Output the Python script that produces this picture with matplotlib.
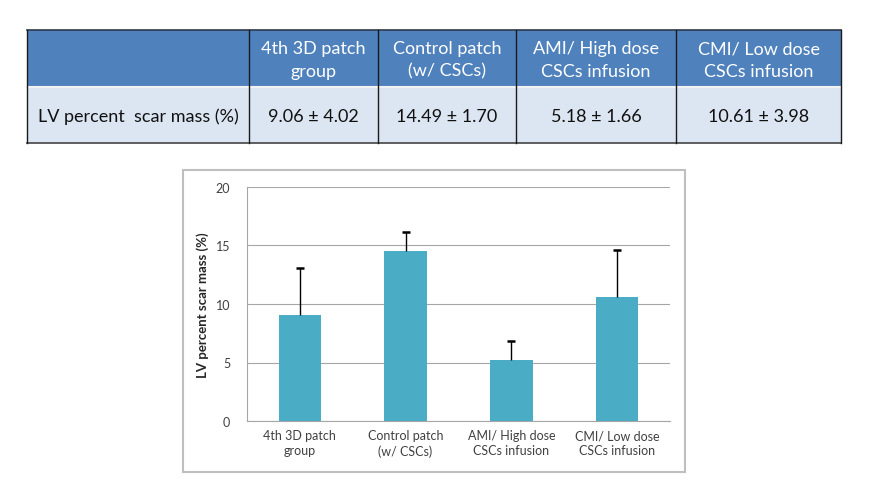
import matplotlib
matplotlib.use("Agg")
import matplotlib.pyplot as plt
from matplotlib.patches import Rectangle

# data
groups = ["4th 3D patch\ngroup", "Control patch\n(w/ CSCs)", "AMI/ High dose\nCSCs infusion", "CMI/ Low dose\nCSCs infusion"]
means = [9.06, 14.49, 5.18, 10.61]
sds = [4.02, 1.70, 1.66, 3.98]
row_label = "LV percent  scar mass (%)"
y_label = "LV percent scar mass (%)"
y_ticks = [0, 5, 10, 15, 20]

plt.rcParams['font.family'] = ['Lato', 'DejaVu Sans']

W, H = 884, 485
fig = plt.figure(figsize=(W / 100, H / 100), dpi=100)

# background layer in pixel coordinates (table + chart frame)
bg = fig.add_axes([0, 0, 1, 1])
bg.set_xlim(0, W)
bg.set_ylim(H, 0)
bg.axis("off")

col_edges = [27, 249, 378, 516, 676, 841]
row_edges = [31, 88, 144]
header_col = "#4F81BD"
body_col = "#DCE6F2"

# header row
bg.add_patch(Rectangle((col_edges[0], row_edges[0]), col_edges[-1] - col_edges[0],
                       row_edges[1] - row_edges[0], facecolor=header_col, edgecolor="none"))
# data row
bg.add_patch(Rectangle((col_edges[0], row_edges[1]), col_edges[-1] - col_edges[0],
                       row_edges[2] - row_edges[1], facecolor=body_col, edgecolor="none"))
# borders
bg.plot([col_edges[0], col_edges[-1]], [row_edges[0], row_edges[0]], color="#2F3A4A", lw=1.2)
bg.plot([col_edges[0], col_edges[-1]], [row_edges[1], row_edges[1]], color="#F2F2F2", lw=1.5)
bg.plot([col_edges[0], col_edges[-1]], [row_edges[2], row_edges[2]], color="#444444", lw=1.2)
for x in col_edges:
    bg.plot([x, x], [row_edges[0], row_edges[2]], color="#1A1A1A", lw=1.0)

ymid_h = (row_edges[0] + row_edges[1]) / 2
ymid_b = (row_edges[1] + row_edges[2]) / 2
fs_tab = 13
bg.text((col_edges[0] + col_edges[1]) / 2, ymid_b + 1, row_label, ha="center", va="center",
        fontsize=fs_tab, color="#111111")
for i, g in enumerate(groups):
    xc = (col_edges[i + 1] + col_edges[i + 2]) / 2
    bg.text(xc, ymid_h + 1, g, ha="center", va="center", fontsize=fs_tab, color="white",
            linespacing=1.5)
    bg.text(xc, ymid_b + 1, "%.2f \u00b1 %.2f" % (means[i], sds[i]), ha="center", va="center",
            fontsize=fs_tab, color="#111111")

# chart frame
bg.add_patch(Rectangle((183, 171), 502, 302, facecolor="white", edgecolor="#BFBFBF", lw=1.5))

# bar chart
ax = fig.add_axes([247 / W, (H - 422) / H, 423 / W, 234 / H])
x = list(range(len(groups)))
ax.bar(x, means, width=0.4, color="#4BACC6", zorder=3)
# upper-only error bars
tops = [m + s for m, s in zip(means, sds)]
ax.vlines(x, means, tops, color="black", lw=1, zorder=4)
ax.plot(x, tops, ls="none", marker="_", ms=6, mew=1.8, color="black", zorder=4)
ax.set_xlim(-0.5, len(groups) - 0.5)
ax.set_ylim(0, 20)
ax.set_yticks(y_ticks)
ax.set_xticks(x)
ax.set_xticklabels(groups, linespacing=1.3)
ax.tick_params(axis="both", length=0, labelsize=9, labelcolor="#404040")
ax.tick_params(axis="y", pad=12)
ax.tick_params(axis="x", pad=6)
ax.yaxis.grid(True, color="#A6A6A6", lw=0.8, zorder=0)
for s in ["top", "right"]:
    ax.spines[s].set_visible(False)
ax.spines["left"].set_color("#A6A6A6")
ax.spines["bottom"].set_color("#A6A6A6")
ax.set_ylabel(y_label, fontsize=9.5, fontweight="bold", color="#262626", labelpad=5)

fig.savefig("out.png", dpi=100)
